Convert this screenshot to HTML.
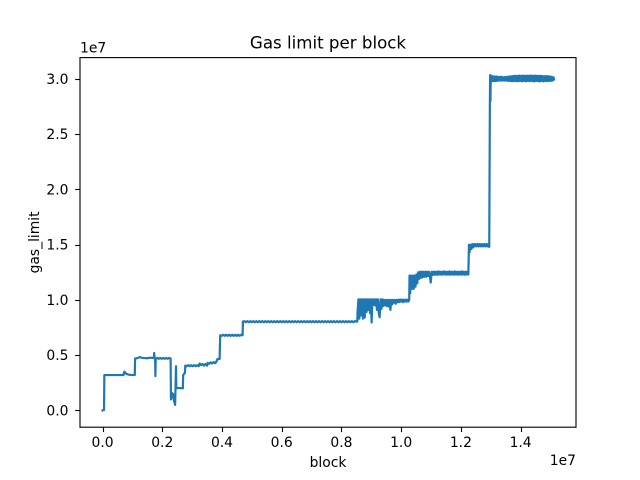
<!DOCTYPE html>
<html>
<head>
<meta charset="utf-8">
<title>Gas limit per block</title>
<style>
html,body{margin:0;padding:0;background:#fff;width:640px;height:480px;overflow:hidden}
svg{display:block}
text{font-family:"DejaVu Sans","Liberation Sans",sans-serif;fill:#000}
</style>
</head>
<body>
<svg id="chart" width="640" height="480" viewBox="0 0 640 480">
<rect x="0" y="0" width="640" height="480" fill="#fff"/>
<text x="328" y="48.5" font-size="16.67" text-anchor="middle">Gas limit per block</text>
<text x="328" y="467" font-size="13.89" text-anchor="middle">block</text>
<text transform="translate(39,242.4) rotate(-90)" font-size="13.89" text-anchor="middle">gas_limit</text>
<text x="80" y="52.5" font-size="13.89">1e7</text>
<text x="576" y="465" font-size="13.89" text-anchor="end">1e7</text>
<g id="ticks"></g>
<path id="series" fill="none" stroke="#1f77b4" stroke-width="2.2" stroke-linejoin="round" stroke-linecap="square"></path>
<rect x="80" y="57.6" width="496" height="369.6" fill="none" stroke="#000" stroke-width="1.11"/>
</svg>
<script>
var xTickValues = [0, 2, 4, 6, 8, 10, 12, 14];
var xTickLabels = ["0.0", "0.2", "0.4", "0.6", "0.8", "1.0", "1.2", "1.4"];
var yTickValues = [0, 5, 10, 15, 20, 25, 30];
var yTickLabels = ["0.0", "0.5", "1.0", "1.5", "2.0", "2.5", "3.0"];

// block number and gas limit, in millions
var earlyBlocks = [0, 0.04, 0.05, 0.06, 0.7, 0.73, 0.8, 0.9, 1.08, 1.09, 1.15, 1.25, 1.35, 1.5, 1.6, 1.72, 1.73, 1.74, 1.76, 1.77, 1.78,
  1.83, 1.88, 1.93, 1.98, 2.03, 2.08, 2.13, 2.18, 2.23, 2.28,
  2.29, 2.31, 2.36, 2.38, 2.43, 2.44, 2.46, 2.47, 2.55, 2.69, 2.7, 2.76, 2.77,
  2.82, 2.87, 2.92, 2.97, 3.02, 3.07, 3.12, 3.17, 3.22, 3.25, 3.3, 3.35, 3.4, 3.45, 3.5, 3.52, 3.57, 3.62, 3.67, 3.72, 3.77, 3.8, 3.85, 3.92, 3.94];
var earlyGas = [0, 0.05, 0.05, 3.2, 3.2, 3.5, 3.3, 3.22, 3.2, 4.7, 4.72, 4.82, 4.75, 4.72, 4.77, 4.75, 5.2, 4.7, 4.7, 3.1, 4.7,
  4.75, 4.67, 4.75, 4.67, 4.75, 4.67, 4.75, 4.67, 4.75, 4.7,
  1.0, 1.6, 1.5, 1.0, 0.5, 1.6, 4.0, 2.0, 2.03, 2.0, 3.2, 3.4, 4.05,
  4.0, 4.09, 4.0, 4.09, 4.0, 4.09, 4.0, 4.09, 4.0, 4.25, 4.1, 4.2, 4.05, 4.2, 4.05, 4.3, 4.22, 4.35, 4.25, 4.38, 4.28, 4.35, 4.65, 4.65, 6.8];

var sevenBlocks = [3.99, 4.04, 4.09, 4.14, 4.19, 4.24, 4.29, 4.34, 4.39, 4.44, 4.49, 4.54, 4.59, 4.64, 4.69];
var sevenGas = [6.75, 6.85, 6.75, 6.85, 6.75, 6.85, 6.75, 6.85, 6.75, 6.85, 6.75, 6.85, 6.75, 6.85, 6.8];

var eightBlocks = [4.7, 4.75, 4.8, 4.85, 4.9, 4.95, 5.0, 5.05, 5.1, 5.15,
  5.2, 5.25, 5.3, 5.35, 5.4, 5.45, 5.5, 5.55, 5.6, 5.65,
  5.7, 5.75, 5.8, 5.85, 5.9, 5.95, 6.0, 6.05, 6.1, 6.15,
  6.2, 6.25, 6.3, 6.35, 6.4, 6.45, 6.5, 6.55, 6.6, 6.65,
  6.7, 6.75, 6.8, 6.85, 6.9, 6.95, 7.0, 7.05, 7.1, 7.15,
  7.2, 7.25, 7.3, 7.35, 7.4, 7.45, 7.5, 7.55, 7.6, 7.65,
  7.7, 7.75, 7.8, 7.85, 7.9, 7.95, 8.0, 8.05, 8.1, 8.15,
  8.2, 8.25, 8.3, 8.35, 8.4, 8.45, 8.53];
var eightGas = [8.03, 8.08, 7.98, 8.08, 7.98, 8.08, 7.98, 8.08, 7.98, 8.08,
  7.98, 8.08, 7.98, 8.08, 7.98, 8.08, 7.98, 8.08, 7.98, 8.08,
  7.98, 8.08, 7.98, 8.08, 7.98, 8.08, 7.98, 8.08, 7.98, 8.08,
  7.98, 8.08, 7.98, 8.08, 7.98, 8.08, 7.98, 8.08, 7.98, 8.08,
  7.98, 8.08, 7.98, 8.08, 7.98, 8.08, 7.98, 8.08, 7.98, 8.08,
  7.98, 8.08, 7.98, 8.08, 7.98, 8.08, 7.98, 8.08, 7.98, 8.08,
  7.98, 8.08, 7.98, 8.08, 7.98, 8.08, 7.98, 8.08, 7.98, 8.08,
  7.98, 8.08, 7.98, 8.08, 7.98, 8.08, 8.03];

var tenBandBlocks = [8.54, 8.57, 8.6, 8.63, 8.66, 8.69, 8.72, 8.75, 8.78, 8.81,
  8.84, 8.87, 8.9, 8.93, 8.96, 8.99, 9.01,
  9.04, 9.07, 9.1, 9.13, 9.16, 9.19, 9.22, 9.25, 9.28, 9.31,
  9.34, 9.37, 9.4, 9.43, 9.46, 9.49, 9.52, 9.55, 9.58, 9.61,
  9.64, 9.67, 9.7, 9.73, 9.76, 9.79, 9.82, 9.85, 9.88, 9.91,
  9.94, 9.97, 10.0, 10.03, 10.06, 10.09, 10.12, 10.15, 10.18, 10.21,
  10.24, 10.27];
var tenBandGas = [8.9, 10.05, 8.3, 10.05, 8.6, 10.05, 8.3, 10.05, 8.4, 10.05,
  8.9, 10.05, 9.1, 10.05, 8.8, 10.05, 7.95,
  10.05, 9.55, 10.05, 9.5, 10.05, 9.1, 10.05, 8.8, 8.43, 10.05,
  9.2, 10.05, 9.45, 10.0, 9.5, 10.0, 9.45, 10.0, 9.4, 10.0,
  9.1, 10.0, 9.6, 10.0, 9.75, 10.0, 9.65, 10.0, 9.8, 10.02,
  9.8, 10.02, 9.85, 10.02, 9.8, 10.02, 9.85, 10.02, 9.85, 10.02,
  9.85, 10.0];

var twelveBandBlocks = [10.28, 10.3, 10.33, 10.36, 10.39, 10.42, 10.45, 10.48, 10.51, 10.54, 10.57, 10.6, 10.63, 10.66, 10.69, 10.72,
  10.75, 10.78, 10.81, 10.84, 10.87, 10.9, 10.93, 10.96, 10.99, 11.02,
  11.05, 11.08, 11.11, 11.14, 11.17, 11.2, 11.23, 11.26, 11.29, 11.32,
  11.35, 11.38, 11.41, 11.44, 11.47, 11.5, 11.53, 11.56, 11.59, 11.62,
  11.65, 11.68, 11.71, 11.74, 11.77, 11.8, 11.83, 11.86, 11.89, 11.92,
  11.95, 11.98, 12.01, 12.04, 12.07, 12.1, 12.13, 12.16, 12.19, 12.22,
  12.25];
var twelveBandGas = [12.2, 10.6, 12.2, 11.0, 12.2, 11.0, 12.2, 11.2, 12.3, 11.5, 12.5, 11.9, 12.55, 12.0, 12.55, 12.05,
  12.55, 12.1, 12.55, 12.1, 12.55, 12.15, 12.55, 12.2, 11.57, 12.55,
  12.25, 12.55, 12.28, 12.55, 12.28, 12.55, 12.28, 12.58, 12.3, 12.55,
  12.28, 12.55, 12.3, 12.58, 12.3, 12.55, 12.28, 12.55, 12.3, 12.58,
  12.28, 12.55, 12.3, 12.55, 12.28, 12.58, 12.3, 12.55, 12.28, 12.55,
  12.3, 12.55, 12.28, 12.58, 12.3, 12.55, 12.28, 12.55, 12.3, 12.55,
  12.3];

var fifteenBandBlocks = [12.27, 12.29, 12.32, 12.35, 12.38, 12.41, 12.44, 12.47, 12.5, 12.53, 12.56,
  12.59, 12.62, 12.65, 12.68, 12.71, 12.74, 12.77, 12.8, 12.83, 12.86,
  12.89, 12.92, 12.95];
var fifteenBandGas = [15.0, 14.3, 14.98, 14.6, 15.05, 14.75, 15.05, 14.85, 15.05, 14.85, 15.05,
  14.85, 15.05, 14.85, 15.05, 14.85, 15.05, 14.85, 15.05, 14.85, 15.05,
  14.85, 15.05, 14.8];

var topBandBlocks = [12.97, 12.98, 12.99,
  13.0, 13.03, 13.06, 13.09, 13.12, 13.15, 13.18, 13.21, 13.24, 13.27,
  13.3, 13.33, 13.36, 13.39, 13.42, 13.45, 13.48, 13.51, 13.54, 13.57,
  13.6, 13.63, 13.66, 13.69, 13.72, 13.75, 13.78, 13.81, 13.84, 13.87,
  13.9, 13.93, 13.96, 13.99, 14.02, 14.05, 14.08, 14.11, 14.14, 14.17,
  14.2, 14.23, 14.26, 14.29, 14.32, 14.35, 14.38, 14.41, 14.44, 14.47,
  14.5, 14.53, 14.56, 14.59, 14.62, 14.65, 14.68, 14.71, 14.74, 14.77,
  14.8, 14.83, 14.86, 14.89, 14.92, 14.95, 14.98, 15.01, 15.04, 15.07,
  15.1, 15.12];
var topBandGas = [27.5, 30.35, 28.0,
  30.3, 29.8, 30.25, 29.8, 30.22, 29.8, 30.22, 29.82, 30.2, 29.85,
  30.18, 29.85, 30.2, 29.85, 30.15, 29.85, 30.18, 29.85, 30.18, 29.82,
  30.22, 29.82, 30.22, 29.8, 30.25, 29.8, 30.28, 29.82, 30.28, 29.8,
  30.28, 29.8, 30.3, 29.82, 30.28, 29.78, 30.3, 29.82, 30.28, 29.78,
  30.3, 29.82, 30.28, 29.8, 30.3, 29.82, 30.3, 29.8, 30.28, 29.78,
  30.3, 29.82, 30.28, 29.8, 30.28, 29.78, 30.28, 29.82, 30.25, 29.78,
  30.25, 29.82, 30.25, 29.8, 30.25, 29.82, 30.22, 29.82, 30.2, 29.85,
  30.15, 29.95];

var xDomainMin = -0.755, xDomainMax = 15.855;
var yDomainMin = -1.52, yDomainMax = 31.93;
var plotLeft = 80, plotRight = 576, plotTop = 57.6, plotBottom = 427.2;

function xScale(v) {
  return plotLeft + (v - xDomainMin) / (xDomainMax - xDomainMin) * (plotRight - plotLeft);
}
function yScale(v) {
  return plotBottom - (v - yDomainMin) / (yDomainMax - yDomainMin) * (plotBottom - plotTop);
}

var SVG_NS = "http://www.w3.org/2000/svg";
var ticks = document.getElementById("ticks");

xTickValues.forEach(function (v, i) {
  var px = Math.round(xScale(v)) + 0.5;
  var mark = document.createElementNS(SVG_NS, "line");
  mark.setAttribute("x1", px);
  mark.setAttribute("x2", px);
  mark.setAttribute("y1", plotBottom);
  mark.setAttribute("y2", plotBottom + 4.86);
  mark.setAttribute("stroke", "#000");
  mark.setAttribute("stroke-width", "1.11");
  
  
  ticks.appendChild(mark);
  var label = document.createElementNS(SVG_NS, "text");
  label.setAttribute("x", xScale(v));
  label.setAttribute("y", 447);
  label.setAttribute("font-size", "13.89");
  label.setAttribute("text-anchor", "middle");
  label.textContent = xTickLabels[i];
  
  
  ticks.appendChild(label);
});

yTickValues.forEach(function (v, i) {
  var py = Math.round(yScale(v)) + 0.5;
  var mark = document.createElementNS(SVG_NS, "line");
  mark.setAttribute("x1", plotLeft - 4.86);
  mark.setAttribute("x2", plotLeft);
  mark.setAttribute("y1", py);
  mark.setAttribute("y2", py);
  mark.setAttribute("stroke", "#000");
  mark.setAttribute("stroke-width", "1.11");
  
  
  ticks.appendChild(mark);
  var label = document.createElementNS(SVG_NS, "text");
  label.setAttribute("x", plotLeft - 11.5);
  label.setAttribute("y", yScale(v) + 5);
  label.setAttribute("font-size", "13.89");
  label.setAttribute("text-anchor", "end");
  label.textContent = yTickLabels[i];
  
  
  ticks.appendChild(label);
});

var allBlocks = earlyBlocks.concat(sevenBlocks, eightBlocks, tenBandBlocks, twelveBandBlocks, fifteenBandBlocks, topBandBlocks);
var allGas = earlyGas.concat(sevenGas, eightGas, tenBandGas, twelveBandGas, fifteenBandGas, topBandGas);
var d = allBlocks.map(function (b, i) {
  return (i ? "L" : "M") + xScale(b).toFixed(2) + " " + yScale(allGas[i]).toFixed(2);
}).join("");
document.getElementById("series").setAttribute("d", d);
</script>
</body>
</html>
